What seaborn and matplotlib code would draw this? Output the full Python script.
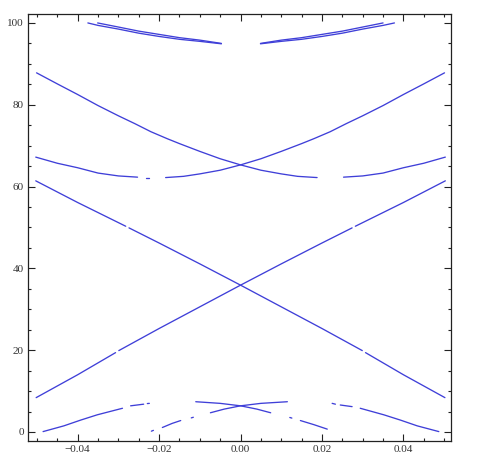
import matplotlib.pyplot as plt
import numpy as np
import pandas as pd
import seaborn as sns
from matplotlib.ticker import MultipleLocator, FixedLocator

nan = np.nan

# rising straight-ish line
L1_X = [-0.0502, -0.04, -0.0307, nan, -0.0299, -0.02, -0.01, 0.0, 0.01, 0.02, 0.0274, nan, 0.0282, 0.04, 0.0503]
L1_Y = [8.4, 14.0, 19.4, nan, 19.9, 25.3, 30.6, 35.9, 41.1, 46.2, 49.9, nan, 50.3, 56.1, 61.4]
# falling straight-ish line
L2_X = [-0.0503, -0.04, -0.0282, nan, -0.0274, -0.02, -0.01, 0.0, 0.01, 0.02, 0.0299, nan, 0.0307, 0.04, 0.0502]
L2_Y = [61.4, 56.1, 50.3, nan, 49.9, 46.2, 41.1, 35.9, 30.6, 25.3, 19.9, nan, 19.4, 14.0, 8.4]

# hyperbola-like pair crossing near 65
A_X = [-0.0501, -0.045, -0.04, -0.035, -0.03, -0.026, -0.022, -0.018, -0.015, -0.01, -0.005, 0.0,
       0.005, 0.01, 0.014, 0.0188, nan, 0.0253, 0.03, 0.035, 0.04, 0.045, 0.0503]
A_Y = [87.8, 85.1, 82.5, 79.8, 77.3, 75.4, 73.4, 71.7, 70.5, 68.6, 66.8, 65.3,
       64.0, 63.1, 62.5, 62.2, nan, 62.3, 62.6, 63.3, 64.6, 65.7, 67.2]
B_X = [-0.0503, -0.045, -0.04, -0.035, -0.03, -0.0253, nan, -0.0233, -0.0226, nan, -0.0184,
       -0.014, -0.01, -0.005, 0.0, 0.005, 0.01, 0.015, 0.018, 0.022, 0.026, 0.03, 0.035, 0.04,
       0.045, 0.0501]
B_Y = [67.2, 65.7, 64.6, 63.3, 62.6, 62.3, nan, 62.2, 62.2, nan, 62.2,
       62.5, 63.1, 64.0, 65.3, 66.8, 68.6, 70.5, 71.7, 73.4, 75.4, 77.3, 79.8, 82.5,
       85.1, 87.8]

# double curves near the top, clipped at 100
T1_X = [-0.0375, -0.035, -0.03, -0.025, -0.02, -0.015, -0.01, -0.0047]
T1_Y = [100.0, 99.4, 98.5, 97.5, 96.7, 96.0, 95.5, 94.9]
T2_X = [-0.0351, -0.03, -0.025, -0.02, -0.015, -0.01, -0.0047]
T2_Y = [100.0, 99.0, 98.0, 97.2, 96.4, 95.8, 95.0]
T3_X = [0.0049, 0.01, 0.015, 0.02, 0.025, 0.03, 0.035, 0.0378]
T3_Y = [94.9, 95.5, 96.0, 96.7, 97.5, 98.5, 99.4, 100.0]
T4_X = [0.0049, 0.01, 0.015, 0.02, 0.025, 0.03, 0.035]
T4_Y = [95.0, 95.8, 96.4, 97.2, 98.0, 99.0, 100.0]

# crossing pair near the bottom
C_X = [-0.0485, -0.0434, -0.0393, -0.0352, -0.029, nan, -0.027, -0.0238, nan, -0.0229, -0.0224, nan,
       -0.011, -0.005, 0.0, 0.004, 0.0074, nan, 0.0121, 0.0126, nan, 0.0147, 0.018, 0.0213]
C_Y = [0.1, 1.5, 2.9, 4.2, 5.8, nan, 6.4, 6.8, nan, 6.95, 7.0, nan,
       7.4, 7.0, 6.4, 5.6, 4.7, nan, 3.55, 3.4, nan, 2.8, 1.8, 0.7]
D_X = [-0.0219, -0.0214, nan, -0.0192, -0.0168, -0.0147, nan, -0.0121, -0.0116, nan,
       -0.0074, -0.004, 0.0, 0.005, 0.0115, nan, 0.0225, 0.0233, nan, 0.0245, 0.0274, nan,
       0.0294, 0.0352, 0.0393, 0.0434, 0.0487]
D_Y = [0.2, 0.4, nan, 1.1, 2.1, 2.8, nan, 3.45, 3.6, nan,
       4.7, 5.6, 6.4, 7.0, 7.4, nan, 7.0, 6.8, nan, 6.6, 6.2, nan,
       5.8, 4.2, 2.9, 1.5, 0.1]

CURVES = [(L1_X, L1_Y), (L2_X, L2_Y), (A_X, A_Y), (B_X, B_Y), (T1_X, T1_Y), (T2_X, T2_Y),
          (T3_X, T3_Y), (T4_X, T4_Y), (C_X, C_Y), (D_X, D_Y)]

X_TICKS = [-0.04, -0.02, 0.0, 0.02, 0.04]
X_LABELS = ["\u22120.04", "\u22120.02", "0.00", "0.02", "0.04"]
Y_TICKS = [0, 20, 40, 60, 80, 100]

LINE_COLOR = "#3f3fd8"


def curves_to_frame(curves) -> pd.DataFrame:
    rows = {"x": [], "y": [], "seg": []}
    seg = 0
    for xs, ys in curves:
        seg += 1
        for x, y in zip(xs, ys):
            if np.isnan(x):
                seg += 1
                continue
            rows["x"].append(x)
            rows["y"].append(y)
            rows["seg"].append(seg)
    return pd.DataFrame(rows)


sns.set_style("ticks")
plt.rcParams["font.family"] = ["Liberation Serif", "DejaVu Serif"]

fig = plt.figure(figsize=(5.04, 4.68), dpi=100)
ax = fig.add_axes([0.0556, 0.0577, 0.8393, 0.9125])

df = curves_to_frame(CURVES)
sns.lineplot(data=df, x="x", y="y", units="seg", estimator=None, sort=False,
             color=LINE_COLOR, linewidth=0.95, legend=False, ax=ax)

ax.set_xlim(-0.0522, 0.0517)
ax.set_ylim(-2.2, 102.2)
ax.xaxis.set_major_locator(FixedLocator(X_TICKS))
ax.set_xticklabels(X_LABELS)
ax.xaxis.set_minor_locator(MultipleLocator(0.005))
ax.set_yticks(Y_TICKS)
ax.yaxis.set_minor_locator(MultipleLocator(5))
ax.tick_params(which="both", direction="in", top=True, right=True,
               labelsize=8, labelcolor="#333333", color="#222222", width=0.8)
ax.tick_params(which="major", length=5, pad=3)
ax.tick_params(which="minor", length=2.5)
ax.set_xlabel("")
ax.set_ylabel("")
for side in ax.spines.values():
    side.set_linewidth(0.9)
    side.set_color("#222222")

fig.savefig("out.png", dpi=100)
